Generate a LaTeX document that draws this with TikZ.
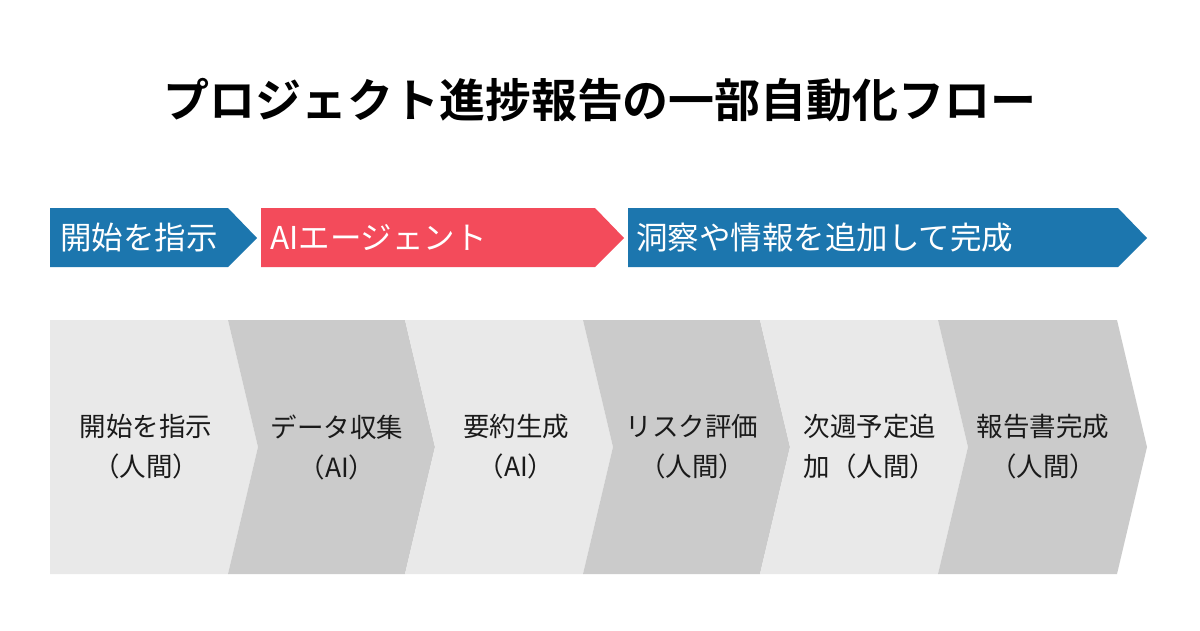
\documentclass[tikz,border=0pt]{standalone}
\usepackage{fontspec}
\setmainfont{Noto Sans CJK JP}
\newfontfamily\jpbold{Noto Sans CJK JP Bold}
\definecolor{bblue}{HTML}{1C76AE}
\definecolor{bred}{HTML}{F34B5B}
\definecolor{clight}{HTML}{E9E9E9}
\definecolor{cdark}{HTML}{CBCBCB}
\definecolor{txt}{HTML}{1A1A1A}
\begin{document}
\begin{tikzpicture}[x=1pt,y=-1pt,
  bantext/.style={text=white,font=\fontsize{31.5}{34}\selectfont,anchor=west,inner sep=0},
  steptext/.style={text=txt,font=\fontsize{26.5}{40}\selectfont,align=center}]
\useasboundingbox (0,0) rectangle (1200,630);
\fill[white] (0,0) rectangle (1200,630);
\node[font=\jpbold\fontsize{46}{50}\selectfont,text=black] (title) at (600,100) {プロジェクト進捗報告の一部自動化フロー};
% banners
\fill[bblue] (50,208) -- (228,208) -- (257,238) -- (228,267) -- (50,267) -- cycle;
\node[bantext] (b1) at (60,238) {開始を指示};
\fill[bred] (261,208) -- (595,208) -- (624,238) -- (595,267) -- (261,267) -- cycle;
\node[bantext] (b2) at (270,238) {AIエージェント};
\fill[bblue] (628,208) -- (1118,208) -- (1147,238) -- (1118,267) -- (628,267) -- cycle;
\node[bantext] (b3) at (636,238) {洞察や情報を追加して完成};
% chevrons
\fill[clight] (50,320) -- (228,320) -- (258,447) -- (228,574) -- (50,574) -- cycle;
\foreach \L/\R/\c in {228/405/cdark,405/583/clight,583/760/cdark,760/938/clight,938/1117/cdark}{
  \fill[\c] (\L,320) -- (\R,320) -- (\R+30,447) -- (\R,574) -- (\L,574) -- (\L+30,447) -- cycle;}
\node[steptext] (s1) at (146,447) {開始を指示\\（人間）};
\node[steptext] (s2) at (337,447) {データ収集\\（AI）};
\node[steptext] (s3) at (516,447) {要約生成\\（AI）};
\node[steptext] (s4) at (692,447) {リスク評価\\（人間）};
\node[steptext] (s5) at (870,447) {次週予定追\\加（人間）};
\node[steptext] (s6) at (1043,447) {報告書完成\\（人間）};
\end{tikzpicture}
\end{document}
